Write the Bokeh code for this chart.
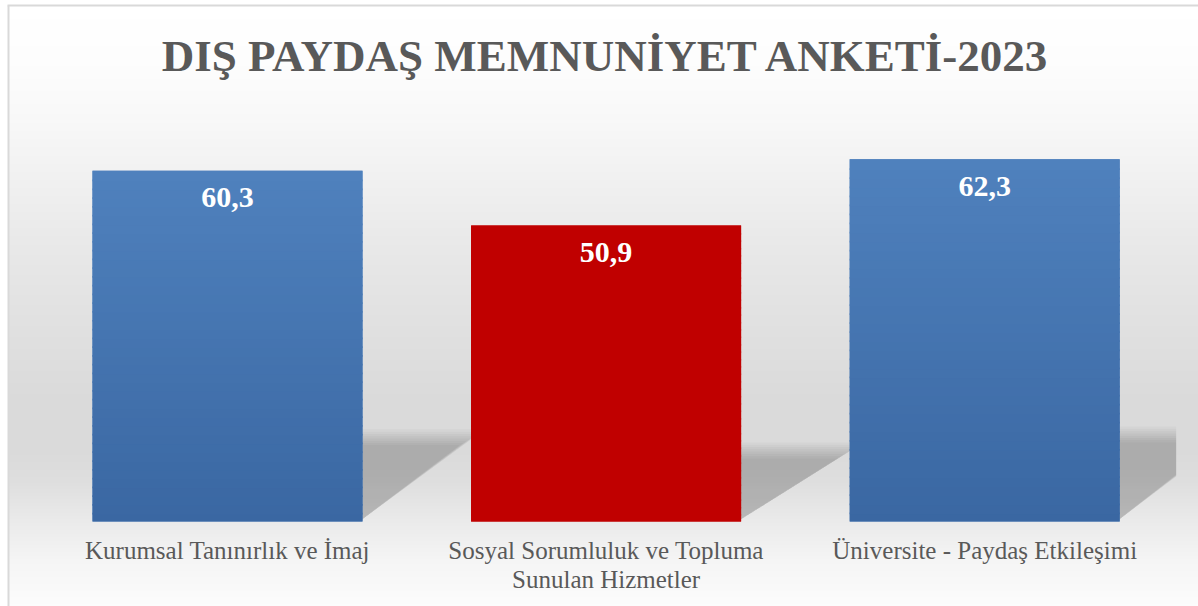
import numpy as np
from bokeh.plotting import figure
from bokeh.models import Range1d
from bokeh.core.properties import value
from bokeh.embed import file_html
from bokeh.resources import INLINE

# ---------------- data ----------------
title = "DIŞ PAYDAŞ MEMNUNİYET ANKETİ-2023"
categories = [
    "Kurumsal Tanınırlık ve İmaj",
    "Sosyal Sorumluluk ve Topluma\nSunulan Hizmetler",
    "Üniversite - Paydaş Etkileşimi",
]
values = [60.3, 50.9, 62.3]
bar_top_colors = ["#4f81bd", "#c00000", "#4f81bd"]
bar_bottom_colors = ["#3a67a2", "#c00000", "#3a67a2"]

# ---------------- layout / scale ----------------
W, H = 1198, 606
PXX, X0 = 378.6, 227.0      # px per category, px of first category centre
PXY, Y0 = 5.815, 521.0      # px per value unit, px of zero line


def dx(px):
    return (px - X0) / PXX


def dy(py):
    return (Y0 - py) / PXY


p = figure(width=W, height=H,
           x_range=Range1d(dx(0), dx(W)), y_range=Range1d(dy(H), dy(0)),
           output_backend="svg", toolbar_location=None, min_border=0,
           x_axis_location=None, y_axis_location=None, tools="")
for g in p.grid:
    g.visible = False
p.outline_line_color = None
p.background_fill_color = "white"
p.border_fill_color = "white"

# ---------------- background gradient ----------------
stops_py = [5, 60, 110, 160, 240, 320, 400, 450, 480, 520, 560, 606]
stops_g = [255, 253, 249, 243, 233, 225, 218, 218, 222, 234, 245, 252]
rows = H - 5
pys = H - np.arange(rows) - 0.5
gv = np.interp(pys, stops_py, stops_g).round().astype(np.uint8)
img = np.empty((rows, 1), dtype=np.uint32)
view = img.view(dtype=np.uint8).reshape((rows, 1, 4))
view[:, 0, 0] = gv
view[:, 0, 1] = gv
view[:, 0, 2] = gv
view[:, 0, 3] = 255
p.image_rgba(image=[img], x=dx(8), y=dy(H), dw=dx(W) - dx(8), dh=dy(5) - dy(H))

# chart border (left / top)
p.segment(x0=[dx(8), dx(7)], y0=[dy(H), dy(5)], x1=[dx(8), dx(W)], y1=[dy(5), dy(5)],
          line_color="#d9d9d9", line_width=2)

# ---------------- floor shadows ----------------
idx = list(range(len(values)))
BW = 270 / PXX
SH_RATIO = 0.24
SH_W = 0.29
CLIP_X = len(values) - 0.5 + 0.006


def clip_poly(xs, ys, xc):
    out_x, out_y = [], []
    n = len(xs)
    for k in range(n):
        x1, y1 = xs[k], ys[k]
        x2, y2 = xs[(k + 1) % n], ys[(k + 1) % n]
        in1, in2 = x1 <= xc, x2 <= xc
        if in1:
            out_x.append(x1); out_y.append(y1)
        if in1 != in2:
            t = (xc - x1) / (x2 - x1)
            out_x.append(xc); out_y.append(y1 + t * (y2 - y1))
    return out_x, out_y


offsets = [-8, -5.7, -3.4, -1.1, 1.1, 3.4, 5.7, 8]
alpha_layer = 1 - (1 - 0.19) ** (1 / len(offsets))
sx, sy = [], []
for i, v in zip(idx, values):
    xr = i + BW / 2
    h = v * SH_RATIO
    for d in offsets:
        ddy = d / PXY
        ddx = d * 1.6 / PXX
        xs = [xr - 0.002, xr - 0.002, xr + SH_W + ddx]
        ys = [0.3, h + ddy, h + ddy]
        xs, ys = clip_poly(xs, ys, CLIP_X)
        sx.append(xs); sy.append(ys)
p.patches(xs=sx, ys=sy, fill_color="black", fill_alpha=alpha_layer, line_color=None)

# ---------------- bars ----------------
p.vbar(x=idx, top=values, bottom=0, width=BW, fill_color=bar_top_colors, line_color=None)


def hex2rgb(h):
    h = h.lstrip("#")
    return np.array([int(h[k:k + 2], 16) for k in (0, 2, 4)], dtype=float)


N = 40
ql, qr, qt, qb, qc = [], [], [], [], []
for i, v in enumerate(values):
    ct, cb = hex2rgb(bar_top_colors[i]), hex2rgb(bar_bottom_colors[i])
    for k in range(N):
        b = v * k / N
        t = v * (k + 1) / N
        frac = (k + 0.5) / N
        c = cb + (ct - cb) * frac
        ql.append(i - BW / 2); qr.append(i + BW / 2)
        qb.append(max(0.0, b - 0.3)); qt.append(t)
        qc.append("#%02x%02x%02x" % tuple(int(round(x)) for x in c))
p.quad(left=ql, right=qr, top=qt, bottom=qb, fill_color=qc, line_color=None)

# ---------------- value labels ----------------
val_txt = [f"{v:.1f}".replace(".", ",") for v in values]
p.text(x=idx, y=values, text=val_txt, text_align="center", text_baseline="alphabetic",
       y_offset=27, text_color="white", text_font=value("Liberation Serif"),
       text_font_style="bold", text_font_size="30px")

# ---------------- category labels ----------------
lx, ly, lt, lo = [], [], [], []
for i, c in enumerate(categories):
    for j, line in enumerate(c.split("\n")):
        lx.append(i); ly.append(0); lt.append(line); lo.append(29 + 29 * j)
p.text(x=lx, y=ly, text=lt, y_offset=lo, text_align="center", text_baseline="alphabetic",
       text_color="#595959", text_font=value("Liberation Serif"), text_font_size="25px")

# ---------------- title ----------------
p.text(x=[(len(values) - 1) / 2], y=[dy(0)], text=[title], y_offset=55,
       text_align="center", text_baseline="alphabetic", text_color="#595959",
       text_font=value("Liberation Serif"), text_font_style="bold", text_font_size="45px")

open("out.html", "w").write(file_html(p, INLINE))
